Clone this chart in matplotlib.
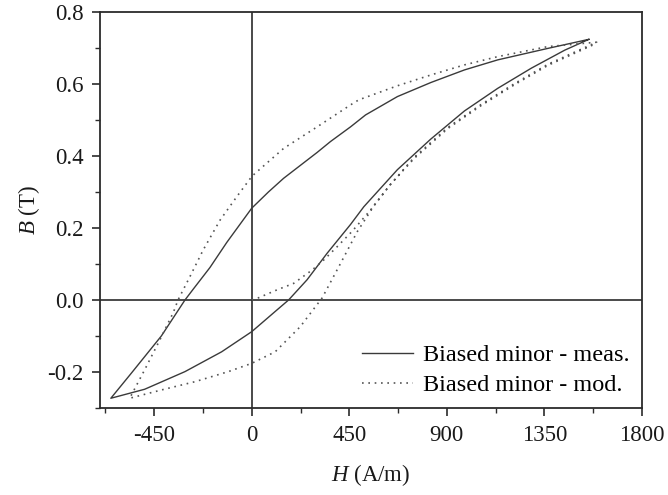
import numpy as np
import matplotlib
matplotlib.use("agg")
import matplotlib.pyplot as plt
from matplotlib.ticker import MultipleLocator

# Measured loop: descending (upper) branch, then ascending (lower) branch
meas_upper_H = [1555, 1367, 1135, 981, 826, 672, 525, 456, 363, 302, 147, 77, 0,
                -115, -193, -270, -308, -417, -555, -650]
meas_upper_B = [0.724, 0.699, 0.667, 0.639, 0.604, 0.565, 0.514, 0.481, 0.440, 0.410,
                0.338, 0.300, 0.255, 0.160, 0.090, 0.030, 0.0, -0.100, -0.203, -0.273]
meas_lower_H = [-650, -494, -308, -139, 0, 108, 170, 255, 348, 456, 517, 672, 826,
                981, 1135, 1290, 1444, 1555]
meas_lower_B = [-0.273, -0.248, -0.199, -0.144, -0.088, -0.032, 0.0, 0.056, 0.13, 0.21,
                0.259, 0.362, 0.447, 0.525, 0.588, 0.644, 0.694, 0.724]

# Model: initial curve from origin, descending branch, ascending branch
mod_init_H = [0, 31, 116, 193, 278, 332, 394, 462, 548, 633, 749, 904, 1058, 1212,
              1367, 1521, 1591]
mod_init_B = [0.0, 0.006, 0.028, 0.046, 0.083, 0.111, 0.148, 0.19, 0.25, 0.316, 0.396,
              0.479, 0.543, 0.601, 0.655, 0.697, 0.716]
mod_upper_H = [1591, 1367, 1135, 981, 826, 672, 494, 456, 302, 147, 16, 0, -69, -146,
               -224, -285, -324, -340, -362, -424, -494, -563]
mod_upper_B = [0.718, 0.704, 0.676, 0.653, 0.625, 0.595, 0.556, 0.542, 0.481, 0.421,
               0.352, 0.343, 0.287, 0.222, 0.139, 0.065, 0.019, 0.0, -0.035, -0.111,
               -0.194, -0.273]
mod_lower_H = [-563, -417, -262, -108, 0, 108, 224, 325, 410, 487, 564, 641, 749, 904,
               1058, 1212, 1367, 1521, 1591]
mod_lower_B = [-0.273, -0.25, -0.227, -0.199, -0.176, -0.144, -0.074, 0.006, 0.102,
               0.19, 0.262, 0.322, 0.393, 0.476, 0.54, 0.598, 0.652, 0.694, 0.713]

x_ticks = [-450, 0, 450, 900, 1350, 1800]
y_ticks = [-0.2, 0.0, 0.2, 0.4, 0.6, 0.8]

plt.rcParams['font.family'] = ['Liberation Serif', 'DejaVu Serif']
plt.rcParams['mathtext.fontset'] = 'custom'
plt.rcParams['mathtext.rm'] = 'Liberation Serif'
plt.rcParams['mathtext.it'] = 'Liberation Serif:italic'
plt.rcParams['axes.unicode_minus'] = False

tone = '#2b2b2b'

fig = plt.figure(figsize=(6.68, 4.95), dpi=100)
ax = fig.add_axes([0.1497, 0.1758, 0.8113, 0.8])

# Reference axes through origin
ax.axhline(0, color=tone, lw=1.2, zorder=1)
ax.axvline(0, color=tone, lw=1.2, zorder=1)

meas_H = meas_upper_H + meas_lower_H[1:]
meas_B = meas_upper_B + meas_lower_B[1:]
mod_H = mod_init_H + mod_upper_H[1:] + mod_lower_H[1:]
mod_B = mod_init_B + mod_upper_B[1:] + mod_lower_B[1:]

ax.plot(meas_H, meas_B, color='#3a3a3a', lw=1.0, label='Biased minor - meas.')
ax.plot(mod_H, mod_B, color='#555555', lw=1.2, linestyle=(0, (1, 2.8)),
        label='Biased minor - mod.')

ax.set_xlim(-700, 1800)
ax.set_ylim(-0.3, 0.8)
ax.set_xticks(x_ticks)
ax.set_yticks(y_ticks)
ax.set_yticklabels(['{:.1f}'.format(v) for v in y_ticks])
ax.xaxis.set_minor_locator(MultipleLocator(225))
ax.yaxis.set_minor_locator(MultipleLocator(0.1))

# Spine and tick formatting
for spine in ax.spines.values():
    spine.set_linewidth(1.3)
    spine.set_color(tone)
ax.tick_params(which='major', direction='out', length=6, width=1.2, color=tone,
               labelsize=16.5, pad=6, labelcolor='#1a1a1a')
ax.tick_params(which='minor', direction='out', length=3.5, width=1.0, color=tone)

ax.set_xlabel(r'$H$ (A/m)', fontsize=16.5, labelpad=12, color='#1a1a1a')
ax.set_ylabel(r'$B$ (T)', fontsize=16.5, labelpad=4, color='#1a1a1a')

ax.legend(loc='lower right', frameon=False, fontsize=17.5, handlelength=2.1,
          handletextpad=0.4, borderaxespad=0.0, labelspacing=0.33,
          bbox_to_anchor=(0.995, 0.005))

fig.savefig('out.png', dpi=100)
